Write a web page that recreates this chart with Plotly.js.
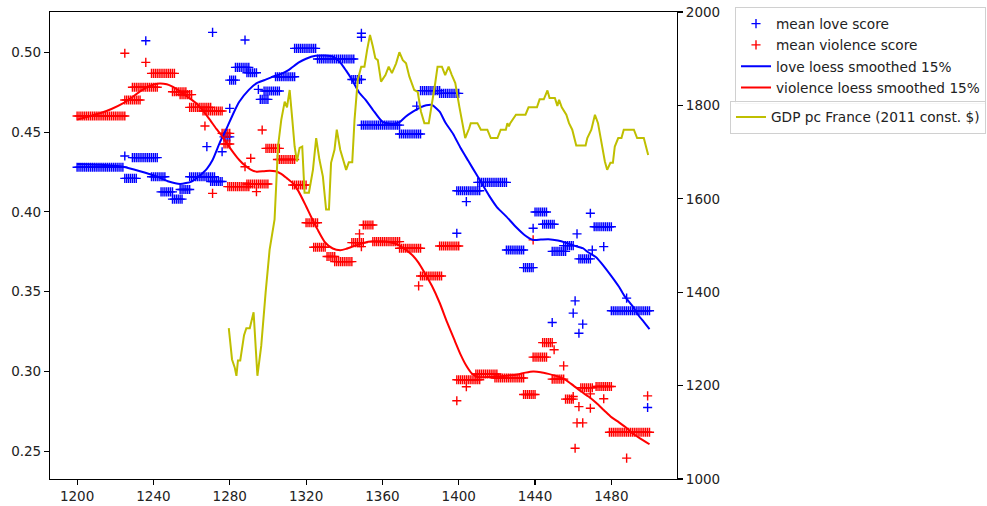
<!DOCTYPE html>
<html>
<head>
<meta charset="utf-8">
<script src="https://cdn.plot.ly/plotly-3.0.1.min.js"></script>
<style>html,body{margin:0;padding:0;background:#fff;}#chart{width:987px;height:506px;}</style>
</head>
<body>
<div id="chart"></div>
<script>
// ---- mean love score: runs of constant yearly values (start, end, value) + single points
const loveRunStart = [1200,1225,1229,1239,1244,1250,1254,1259,1270,1277,1280,1283,1289,1296,1298,1304,1314,1326,1344,1349,1369,1380,1390,1399,1410,1425,1434,1440,1444,1449,1455,1463,1471,1480];
const loveRunEnd   = [1224,1231,1242,1246,1250,1255,1259,1272,1276,1280,1283,1290,1294,1300,1306,1314,1325,1345,1349,1369,1380,1390,1400,1411,1425,1434,1439,1446,1450,1456,1460,1469,1480,1500];
const loveRunValue = [0.428,0.421,0.434,0.422,0.4125,0.408,0.414,0.422,0.419,0.447,0.4826,0.4906,0.4872,0.4705,0.4758,0.4847,0.5025,0.4958,0.483,0.4544,0.4488,0.476,0.4743,0.4132,0.4185,0.3761,0.365,0.3999,0.3922,0.3752,0.3788,0.3705,0.3907,0.338];
const loveOutYear  = [1225,1236,1268,1271,1276,1280,1288,1295,1349,1349,1378,1399,1404,1439,1449,1460,1461,1462,1463,1465,1469,1470,1476,1488,1499];
const loveOutValue = [0.435,0.5073,0.4409,0.5125,0.4377,0.4649,0.5077,0.4768,0.512,0.5095,0.4663,0.3866,0.4064,0.3897,0.3306,0.3365,0.3442,0.3862,0.3239,0.3296,0.3991,0.3761,0.3782,0.3459,0.2773];

// ---- mean violence score
const violRunStart = [1200,1225,1229,1239,1250,1254,1259,1266,1276,1277,1279,1289,1299,1305,1313,1320,1324,1331,1335,1344,1350,1355,1369,1380,1390,1399,1409,1419,1434,1439,1444,1449,1456,1464,1472,1479];
const violRunEnd   = [1225,1233,1242,1251,1257,1260,1270,1276,1280,1280,1290,1300,1306,1314,1320,1326,1330,1335,1344,1350,1355,1369,1380,1391,1400,1411,1420,1434,1440,1446,1449,1455,1460,1470,1480,1500];
const violRunValue = [0.4601,0.4701,0.4781,0.4868,0.4753,0.4735,0.4655,0.4632,0.4492,0.4425,0.4158,0.4175,0.4398,0.4328,0.4168,0.3932,0.3778,0.372,0.3688,0.3807,0.3918,0.3813,0.3772,0.3598,0.3786,0.2947,0.2983,0.2958,0.2855,0.3089,0.318,0.2951,0.2826,0.2897,0.2905,0.2618];
const violOutYear  = [1225,1236,1267,1271,1288,1291,1294,1297,1348,1349,1379,1399,1404,1439,1450,1455,1460,1461,1462,1463,1465,1469,1469,1476,1488,1499];
const violOutValue = [0.4994,0.4937,0.4538,0.4116,0.4283,0.4336,0.4127,0.4513,0.3862,0.3782,0.3536,0.2816,0.2903,0.3824,0.3135,0.3034,0.2842,0.2518,0.2677,0.2779,0.2677,0.2769,0.2859,0.2828,0.2456,0.2846];

// ---- loess smoothed curves
const loveLoessYear  = [1200,1212,1224,1233,1242,1248,1254,1260,1264,1268,1271,1275,1278,1282,1285,1290,1294,1298,1302,1307,1311,1316,1320,1325,1330,1334,1338,1341,1344,1348,1351,1355,1360,1365,1369,1372,1376,1380,1383,1386,1390,1393,1397,1401,1405,1409,1412,1416,1420,1425,1430,1435,1439,1443,1447,1452,1456,1460,1465,1468,1472,1476,1480,1484,1487,1491,1494,1497,1500];
const loveLoessValue = [0.430,0.4295,0.4283,0.4255,0.4221,0.419,0.4175,0.419,0.4225,0.427,0.4325,0.444,0.4513,0.462,0.469,0.4765,0.4806,0.4825,0.4845,0.4865,0.489,0.4935,0.496,0.4978,0.498,0.4973,0.4935,0.4885,0.483,0.4745,0.4705,0.464,0.4565,0.455,0.4562,0.4595,0.4628,0.4655,0.4668,0.467,0.4628,0.456,0.449,0.440,0.432,0.424,0.418,0.410,0.403,0.397,0.3905,0.385,0.3824,0.3826,0.3828,0.382,0.3807,0.379,0.3772,0.3745,0.3715,0.366,0.3597,0.353,0.347,0.341,0.3355,0.331,0.3265];
const violLoessYear  = [1200,1206,1212,1218,1224,1229,1233,1238,1243,1247,1250,1254,1258,1262,1266,1270,1273,1276,1279,1282,1285,1288,1291,1294,1298,1301,1304,1307,1310,1313,1316,1320,1323,1326,1330,1334,1338,1341,1345,1350,1355,1360,1364,1368,1372,1376,1379,1382,1386,1390,1394,1398,1401,1404,1407,1410,1416,1422,1430,1435,1439,1443,1447,1452,1456,1460,1464,1468,1472,1476,1480,1484,1488,1491,1495,1500];
const violLoessValue = [0.4578,0.4598,0.4618,0.4645,0.468,0.472,0.4755,0.479,0.4805,0.480,0.4785,0.4755,0.472,0.4685,0.4635,0.457,0.452,0.4475,0.442,0.437,0.4325,0.429,0.4265,0.4252,0.4255,0.4258,0.4255,0.4238,0.421,0.418,0.413,0.4035,0.396,0.389,0.3808,0.377,0.376,0.3768,0.3785,0.3805,0.3815,0.3815,0.381,0.3795,0.3765,0.3725,0.368,0.362,0.3535,0.343,0.3305,0.319,0.3105,0.3035,0.2985,0.2965,0.2965,0.297,0.2978,0.2992,0.2999,0.2995,0.2984,0.2968,0.2947,0.2912,0.2875,0.2842,0.2803,0.2758,0.2713,0.268,0.2645,0.2612,0.258,0.2543];

// ---- GDP per capita France (2011 const. $)
const gdpYear  = [1279.5,1281.2,1282.6,1283.5,1284.3,1285.5,1287.5,1288.7,1290.5,1292.5,1294.5,1296.5,1298.8,1300.9,1303.5,1305.3,1307,1308.8,1310,1311.4,1312.8,1314,1315.2,1316.6,1318,1319.2,1321.5,1323.6,1325.3,1327,1328.8,1330.5,1332,1333.1,1334.9,1336.1,1337.9,1339.6,1341,1342.4,1344.2,1345.4,1347.1,1348.9,1350.6,1352,1353.5,1355,1356.3,1357.6,1359.3,1361.6,1363.3,1365,1367.2,1368.9,1370.7,1372.4,1374.1,1376.7,1378.5,1380.2,1382,1384.3,1386,1387.7,1388.9,1391.2,1392.9,1394.7,1396.4,1398.2,1400.3,1402,1403.4,1405.5,1406.3,1409.8,1411.6,1415,1416.8,1420.3,1422,1424.7,1425.5,1426.3,1427,1430,1435,1436.6,1441,1442.4,1444.6,1446.5,1447.6,1450.4,1451.7,1452.6,1454,1456.4,1457.8,1459.5,1461.6,1466.5,1467.4,1469.5,1471.4,1473,1474.9,1476.6,1477.8,1479.5,1480.8,1481.8,1483.6,1485.3,1486.5,1491.8,1493.5,1497,1499.3];
const gdpValue = [1323,1256,1239,1221,1254,1254,1308,1323,1323,1357,1221,1285,1399,1491,1556,1712,1769,1808,1796,1833,1769,1712,1680,1709,1712,1613,1613,1662,1730,1684,1648,1577,1577,1677,1705,1748,1705,1680,1662,1678,1678,1769,1855,1883,1883,1919,1951,1926,1901,1897,1851,1865,1883,1869,1890,1914,1897,1890,1862,1833,1829,1787,1762,1762,1801,1848,1883,1883,1865,1883,1865,1848,1798,1762,1730,1751,1762,1762,1748,1748,1730,1730,1748,1748,1762,1755,1762,1780,1780,1796,1796,1813,1813,1832,1816,1816,1799,1812,1796,1780,1762,1748,1714,1714,1730,1748,1780,1762,1716,1680,1662,1677,1677,1712,1730,1730,1748,1748,1730,1730,1694];

function expand(starts, ends, vals, outYears, outVals) {
  const xs = [], ys = [];
  for (let i = 0; i < starts.length; i++) {
    for (let yr = starts[i]; yr <= ends[i]; yr++) { xs.push(yr); ys.push(vals[i]); }
  }
  for (let i = 0; i < outYears.length; i++) { xs.push(outYears[i]); ys.push(outVals[i]); }
  return {xs, ys};
}
const love = expand(loveRunStart, loveRunEnd, loveRunValue, loveOutYear, loveOutValue);
const viol = expand(violRunStart, violRunEnd, violRunValue, violOutYear, violOutValue);

const FONT = {family: 'DejaVu Sans, sans-serif', size: 13.7, color: '#222'};
const markerStyle = c => ({symbol: 'cross-thin-open', size: 6.5, color: c, line: {color: c, width: 1.4}});

const traces = [
  {x: love.xs, y: love.ys, type: 'scatter', mode: 'markers', name: 'mean love score', marker: markerStyle('#0000ff'), legend: 'legend', legendgroup: 'a'},
  {x: viol.xs, y: viol.ys, type: 'scatter', mode: 'markers', name: 'mean violence score', marker: markerStyle('#ff0000'), legend: 'legend', legendgroup: 'b'},
  {x: loveLoessYear, y: loveLoessValue, type: 'scatter', mode: 'lines', name: 'love loess smoothed 15%', line: {color: '#0000ff', width: 2, shape: 'spline', smoothing: 0.6}, legend: 'legend', legendgroup: 'c'},
  {x: violLoessYear, y: violLoessValue, type: 'scatter', mode: 'lines', name: 'violence loess smoothed 15%', line: {color: '#ff0000', width: 2, shape: 'spline', smoothing: 0.6}, legend: 'legend', legendgroup: 'd'},
  {x: gdpYear, y: gdpValue, type: 'scatter', mode: 'lines', name: 'GDP pc France (2011 const. $)', yaxis: 'y2', line: {color: '#bfbf00', width: 2}, legend: 'legend2'}
];

const TICKFONT = {family: 'DejaVu Sans, sans-serif', size: 13.5, color: '#222'};
const layout = {
  width: 987, height: 506,
  margin: {l: 50, r: 310, t: 12, b: 27, pad: 0, autoexpand: false},
  paper_bgcolor: '#fff', plot_bgcolor: '#fff',
  font: FONT,
  showlegend: true,
  xaxis: {range: [1185.8, 1514.4], tickmode: 'linear', tick0: 1200, dtick: 40, ticks: 'outside', ticklen: 5, tickwidth: 1.1, tickcolor: '#000',
          showline: true, linecolor: '#000', linewidth: 1.1, mirror: true, showgrid: false, zeroline: false, automargin: false, tickfont: TICKFONT},
  yaxis: {range: [0.2325, 0.5253], tickmode: 'linear', tick0: 0.25, dtick: 0.05, tickformat: '.2f', ticks: 'outside', ticklen: 5, tickwidth: 1.1, tickcolor: '#000',
          showline: true, linecolor: '#000', linewidth: 1.1, showgrid: false, zeroline: false, automargin: false, tickfont: TICKFONT},
  yaxis2: {range: [1000, 2000], overlaying: 'y', side: 'right', tickmode: 'linear', tick0: 1000, dtick: 200, ticks: 'outside', ticklen: 5, tickwidth: 1.1, tickcolor: '#000',
           showline: true, linecolor: '#000', linewidth: 1.1, showgrid: false, zeroline: false, automargin: false, tickfont: TICKFONT},
  legend: {x: 1.0925, y: 1.0103, xanchor: 'left', yanchor: 'top', bgcolor: 'rgba(255,255,255,0.8)', bordercolor: '#d0d0d0', borderwidth: 1,
           font: FONT, traceorder: 'grouped', tracegroupgap: 0.5, itemwidth: 30},
  legend2: {x: 1.0845, y: 0.8104, xanchor: 'left', yanchor: 'top', bgcolor: 'rgba(255,255,255,0.8)', bordercolor: '#d0d0d0', borderwidth: 1,
            font: FONT, itemwidth: 30}
};

Plotly.newPlot('chart', traces, layout, {displayModeBar: false, staticPlot: true});
</script>
</body>
</html>
